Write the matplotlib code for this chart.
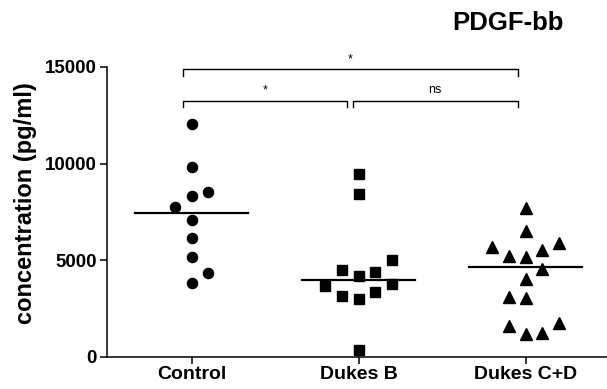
import numpy as np
import matplotlib
matplotlib.use("Agg")
import matplotlib.pyplot as plt

plt.rcParams['font.family'] = ['Liberation Sans', 'DejaVu Sans']

# data (pg/ml)
groups = ['Control', 'Dukes B', 'Dukes C+D']
control = [12040, 9830, 8540, 8330, 7760, 7070, 6120, 5170, 4350, 3800]
dukes_b = [9450, 8400, 5000, 4480, 4400, 4170, 3660, 3760, 3140, 3360, 2980, 350]
dukes_cd = [7710, 6500, 5660, 5860, 5230, 5140, 5520, 4540, 4020, 3100, 3020,
            1590, 1760, 1160, 1240]
medians = [7420, 3970, 4620]

# horizontal scatter of the points (in category units)
control_dx = [0, 0, 0.1, 0, -0.1, 0, 0, 0, 0.1, 0]
dukes_b_dx = [0, 0, 0.2, -0.1, 0.1, 0, -0.2, 0.2, -0.1, 0.1, 0, 0]
dukes_cd_dx = [0, 0, -0.2, 0.2, -0.1, 0, 0.1, 0.1, 0, -0.1, 0, -0.1, 0.2, 0, 0.1]

fig = plt.figure(figsize=(6.07, 3.89), dpi=100)
ax = fig.add_axes([0.176, 0.083, 0.824, 0.745])

series = [control, dukes_b, dukes_cd]
offsets = [control_dx, dukes_b_dx, dukes_cd_dx]
markers = ['o', 's', '^']
sizes = [7.3, 7.6, 8]
for i in range(3):
    xs = i + np.array(offsets[i])
    ax.plot(xs, series[i], linestyle='none', marker=markers[i], color='black',
            markersize=sizes[i], clip_on=False, zorder=3)
    ax.plot([i - 0.34, i + 0.34], [medians[i], medians[i]], color='black',
            linewidth=1.6, zorder=2)

ax.set_xlim(-0.507, 2.487)
ax.set_ylim(0, 15000)
ax.set_yticks([0, 5000, 10000, 15000])
ax.set_xticks([0, 1, 2])
ax.set_xticklabels(groups, fontsize=14, fontweight='bold')
for lab in ax.get_yticklabels():
    lab.set_fontsize(13.5)
    lab.set_fontweight('bold')
ax.tick_params(direction='out', length=5, width=1.1, pad=2)
ax.set_ylabel('concentration (pg/ml)', fontsize=17, fontweight='bold')
ax.yaxis.set_label_coords(-0.14, 0.53)

for s in ['top', 'right']:
    ax.spines[s].set_visible(False)
for s in ['left', 'bottom']:
    ax.spines[s].set_linewidth(1.1)

# significance brackets
def bracket(x1, x2, y, tip, text, ty, tsize):
    ax.plot([x1, x1, x2, x2], [y - tip, y, y, y - tip], color='black',
            linewidth=1.0, clip_on=False)
    ax.text((x1 + x2) / 2, ty, text, ha='center', va='center', fontsize=tsize,
            clip_on=False)

bracket(-0.052, 1.952, 14870, 330, '*', 15400, 9)
bracket(-0.052, 0.928, 13230, 330, '*', 13780, 9)
bracket(0.964, 1.952, 13230, 330, 'ns', 13800, 9)

fig.text(0.836, 0.942, 'PDGF-bb', ha='center', va='center', fontsize=18.5,
         fontweight='bold')

fig.savefig('out.png', dpi=100)
